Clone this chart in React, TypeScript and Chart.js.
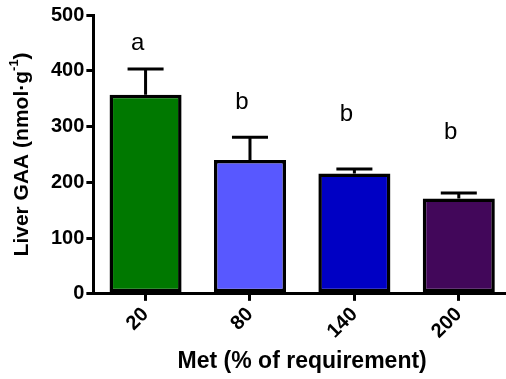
import React, { useEffect, useRef } from 'react';
import { Chart, registerables } from 'chart.js';

Chart.register(...registerables);

const categories = ['20', '80', '140', '200'];
const means = [357, 240, 216, 171];
const errorsUp = [46, 41, 8, 10];
const letters = ['a', 'b', 'b', 'b'];
const letterValues = [449, 344, 322, 289];
const barColors = ['#007800', '#5858ff', '#0000c4', '#42075a'];
const yTicks = [0, 100, 200, 300, 400, 500];

const FONT = 'Arial, "Liberation Sans", sans-serif';

const extras = {
  id: 'extras',
  afterDatasetsDraw(chart: any) {
    const ctx = chart.ctx;
    const meta = chart.getDatasetMeta(0);
    const y = chart.scales.y;
    ctx.save();
    ctx.strokeStyle = '#000';
    ctx.lineWidth = 3;
    meta.data.forEach((bar: any, i: number) => {
      const x = bar.x;
      const top = y.getPixelForValue(means[i]);
      const eTop = y.getPixelForValue(means[i] + errorsUp[i]);
      const half = bar.width / 4;
      ctx.beginPath();
      ctx.moveTo(x, top);
      ctx.lineTo(x, eTop);
      ctx.moveTo(x - half, eTop);
      ctx.lineTo(x + half, eTop);
      ctx.stroke();
      ctx.fillStyle = '#000';
      ctx.font = '24px ' + FONT;
      ctx.textAlign = 'center';
      ctx.textBaseline = 'middle';
      ctx.fillText(letters[i], x - 8, y.getPixelForValue(letterValues[i]));
    });
    ctx.restore();
  },
  afterDraw(chart: any) {
    const ctx = chart.ctx;
    const area = chart.chartArea;
    ctx.save();
    const cy = (area.top + area.bottom) / 2;
    ctx.translate(22, cy);
    ctx.rotate(-Math.PI / 2);
    ctx.fillStyle = '#000';
    ctx.textBaseline = 'middle';
    const main = 'Liver GAA (nmol·g';
    const sup = '-1';
    const end = ')';
    ctx.font = 'bold 21px ' + FONT;
    const w1 = ctx.measureText(main).width;
    const w3 = ctx.measureText(end).width;
    ctx.font = 'bold 13px ' + FONT;
    const w2 = ctx.measureText(sup).width;
    const total = w1 + w2 + w3;
    let x = -total / 2;
    ctx.textAlign = 'left';
    ctx.font = 'bold 21px ' + FONT;
    ctx.fillText(main, x, 0);
    x += w1;
    ctx.font = 'bold 13px ' + FONT;
    ctx.fillText(sup, x, -8);
    x += w2;
    ctx.font = 'bold 21px ' + FONT;
    ctx.fillText(end, x, 0);
    ctx.restore();
  },
};

export default function App() {
  const ref = useRef<HTMLCanvasElement>(null);
  useEffect(() => {
    if (!ref.current) return;
    const chart = new Chart(ref.current, {
      type: 'bar',
      data: {
        labels: categories,
        datasets: [
          {
            data: means,
            backgroundColor: barColors,
            borderColor: '#000',
            borderWidth: 3.5,
            borderSkipped: false,
            barPercentage: 0.69,
            categoryPercentage: 1,
          },
        ],
      },
      options: {
        animation: false,
        responsive: false,
        layout: { padding: { left: 49, top: 15, right: 1, bottom: 4 } },
        plugins: { legend: { display: false }, tooltip: { enabled: false } },
        scales: {
          x: {
            grid: {
              offset: false,
              drawOnChartArea: false,
              drawTicks: true,
              tickLength: 7,
              lineWidth: 3,
              color: '#000',
            },
            border: { display: true, color: '#000', width: 3 },
            ticks: {
              color: '#000',
              font: { family: FONT, size: 20, weight: 'bold' },
              minRotation: 45,
              maxRotation: 45,
              padding: 2,
            },
            title: {
              display: true,
              text: 'Met (% of requirement)',
              color: '#000',
              font: { family: FONT, size: 23, weight: 'bold' },
              padding: { top: 2, bottom: 0 },
            },
          },
          y: {
            min: 0,
            max: 500,
            afterBuildTicks(scale: any) {
              scale.ticks = yTicks.map((v) => ({ value: v }));
            },
            grid: {
              drawOnChartArea: false,
              drawTicks: true,
              tickLength: 7,
              lineWidth: 3,
              color: '#000',
            },
            border: { display: true, color: '#000', width: 3 },
            ticks: {
              color: '#000',
              font: { family: FONT, size: 20, weight: 'bold' },
              padding: 2,
            },
          },
        },
      },
      plugins: [extras],
    });
    return () => chart.destroy();
  }, []);
  return (
    <div style={{ position: 'fixed', left: 0, top: 0, width: 506, height: 379, overflow: 'hidden', background: '#fff' }}>
      <canvas ref={ref} width={512} height={379} style={{ display: 'block' }} />
    </div>
  );
}
